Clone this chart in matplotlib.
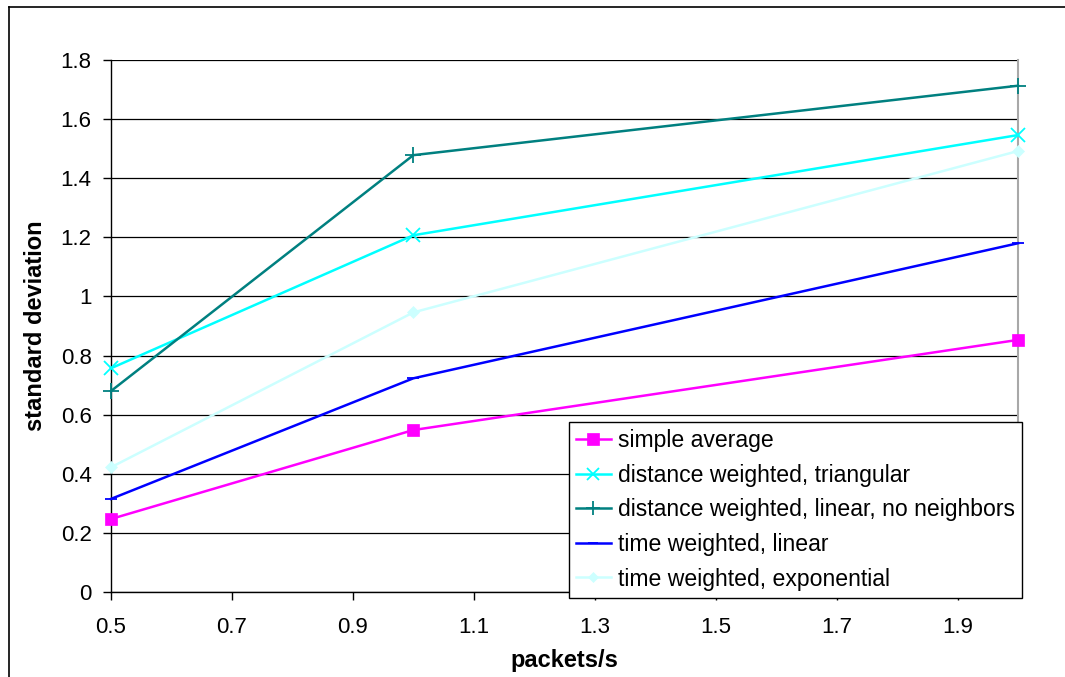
import matplotlib.pyplot as plt
from matplotlib.lines import Line2D

plt.rcParams['font.family'] = ['Liberation Sans', 'DejaVu Sans']

# Datos
rates = [0.5, 1.0, 2.0]
simple_average = [0.247, 0.548, 0.853]
dist_triangular = [0.757, 1.207, 1.546]
dist_linear_no_nb = [0.680, 1.478, 1.713]
time_linear = [0.315, 0.723, 1.180]
time_exponential = [0.422, 0.946, 1.492]

series = [
    ('simple average', simple_average, '#FF00FF', 's', 9),
    ('distance weighted, triangular', dist_triangular, '#00FFFF', 'x', 10),
    ('distance weighted, linear, no neighbors', dist_linear_no_nb, '#008080', '+', 11),
    ('time weighted, linear', time_linear, '#0000FF', '_', 8),
    ('time weighted, exponential', time_exponential, '#CCFFFF', 'D', 6),
]

fig = plt.figure(figsize=(10.65, 6.77), dpi=100)
ax = fig.add_axes([111 / 1065, 1 - 592 / 677, 907 / 1065, 532 / 677])

# Marco exterior
fig.add_artist(Line2D([9 / 1065, 9 / 1065], [0, 1 - 7 / 677], color='black', lw=1.2))
fig.add_artist(Line2D([9 / 1065, 1], [1 - 7 / 677, 1 - 7 / 677], color='black', lw=1.2))

for label, vals, color, marker, ms in series:
    ax.plot(rates, vals, color=color, lw=1.8, marker=marker, markersize=ms,
            markeredgewidth=1.3 if marker in 'x+_' else 0.5,
            markeredgecolor=color, label=label, clip_on=False, zorder=3)

ax.set_xlim(0.5, 2.0)
ax.set_ylim(0, 1.8)
ax.set_xticks([0.5, 0.7, 0.9, 1.1, 1.3, 1.5, 1.7, 1.9])
ax.set_xticklabels(['0.5', '0.7', '0.9', '1.1', '1.3', '1.5', '1.7', '1.9'])
ax.set_yticks([0, 0.2, 0.4, 0.6, 0.8, 1.0, 1.2, 1.4, 1.6, 1.8])
ax.set_yticklabels(['0', '0.2', '0.4', '0.6', '0.8', '1', '1.2', '1.4', '1.6', '1.8'])
ax.yaxis.grid(True, color='black', lw=0.9)
ax.set_axisbelow(True)

ax.spines['top'].set_visible(False)
ax.spines['right'].set_color('#a8a8a8')
ax.spines['right'].set_linewidth(1.5)
ax.spines['left'].set_linewidth(1.0)
ax.spines['bottom'].set_linewidth(1.0)
ax.tick_params(direction='out', length=6, width=1.0, labelsize=16, pad=8)
ax.tick_params(axis='x', pad=12)

ax.set_xlabel('packets/s', fontsize=17, fontweight='bold', labelpad=8)
ax.set_ylabel('standard deviation', fontsize=17, fontweight='bold', labelpad=10)

leg = ax.legend(loc='upper right', bbox_to_anchor=(1.0044, 0.3195), fontsize=16.6,
                frameon=True, fancybox=False, edgecolor='black', framealpha=1,
                handlelength=1.5, handletextpad=0.3, labelspacing=0.5,
                borderpad=0.32, borderaxespad=0, markerscale=0.9)
leg.get_frame().set_linewidth(1.0)
leg.set_zorder(5)

plt.savefig('out.png', dpi=100)
